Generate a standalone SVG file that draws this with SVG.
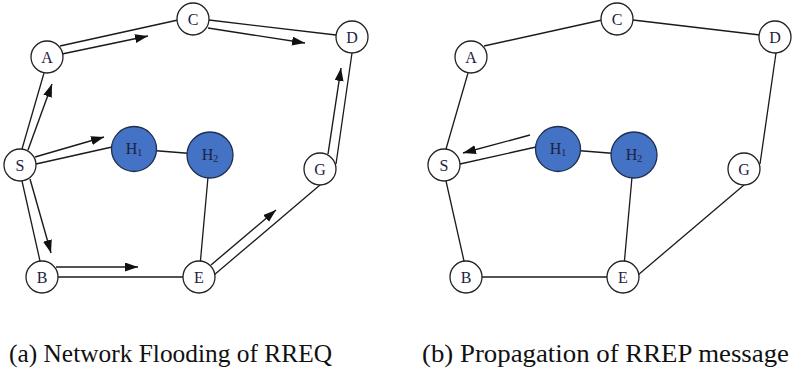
<svg xmlns="http://www.w3.org/2000/svg" width="792" height="375" viewBox="0 0 792 375">
<style>
.e{stroke:#1a1a1a;stroke-width:1.3;fill:none}
.a{stroke:#1a1a1a;stroke-width:1.4;fill:none;marker-end:url(#ah)}
.n{fill:#fff;stroke:#222;stroke-width:1.3}
.h{fill:#4472c4;stroke:#1f2f4f;stroke-width:1.3}
.t{font-size:16px;fill:#1c2340;text-anchor:middle}
.cap{font-size:26px;fill:#111}
</style>
<defs>
<marker id="ah" markerUnits="userSpaceOnUse" markerWidth="14" markerHeight="10" refX="13" refY="4.5" orient="auto">
<path d="M0,0 L13,4.5 L0,9 z" fill="#111"/>
</marker>
</defs>
<g id="connectors">
<line class="e" x1="60" y1="46" x2="178" y2="20"/>
<line class="a" x1="62" y1="54" x2="148" y2="36"/>
<line class="e" x1="209" y1="20" x2="336" y2="35"/>
<line class="a" x1="208" y1="28" x2="305" y2="43"/>
<line class="e" x1="352" y1="53" x2="336" y2="164"/>
<line class="a" x1="328" y1="154" x2="341" y2="68"/>
<line class="e" x1="22" y1="149" x2="44" y2="73"/>
<line class="a" x1="28" y1="150" x2="52" y2="84"/>
<line class="e" x1="36" y1="164" x2="112" y2="147"/>
<line class="a" x1="35" y1="157" x2="104" y2="137"/>
<line class="e" x1="22" y1="181" x2="40" y2="261"/>
<line class="a" x1="30" y1="179" x2="51" y2="253"/>
<line class="e" x1="58" y1="277" x2="183" y2="277"/>
<line class="a" x1="56" y1="267" x2="138" y2="267"/>
<line class="e" x1="214" y1="275" x2="320" y2="185"/>
<line class="a" x1="211" y1="265" x2="276" y2="210"/>
<line class="e" x1="134" y1="149" x2="210" y2="155"/>
<line class="e" x1="210" y1="155" x2="199" y2="277"/>
<line class="e" x1="484" y1="46" x2="602" y2="20"/>
<line class="e" x1="633" y1="20" x2="760" y2="35"/>
<line class="e" x1="776" y1="53" x2="760" y2="164"/>
<line class="e" x1="446" y1="149" x2="468" y2="73"/>
<line class="e" x1="460" y1="164" x2="536" y2="147"/>
<line class="a" x1="530" y1="135" x2="463" y2="153"/>
<line class="e" x1="446" y1="181" x2="464" y2="261"/>
<line class="e" x1="482" y1="277" x2="607" y2="277"/>
<line class="e" x1="638" y1="275" x2="744" y2="185"/>
<line class="e" x1="558" y1="149" x2="634" y2="155"/>
<line class="e" x1="634" y1="155" x2="623" y2="277"/>
</g>
<g font-family="Liberation Serif, Times New Roman, serif">
<g id="L-A"><circle class="n" cx="47" cy="57" r="16"/><text class="t" x="47" y="62.5">A</text></g>
<g id="L-C"><circle class="n" cx="193" cy="19" r="16"/><text class="t" x="193" y="24.5">C</text></g>
<g id="L-D"><circle class="n" cx="352" cy="37" r="16"/><text class="t" x="352" y="42.5">D</text></g>
<g id="L-S"><circle class="n" cx="20" cy="165" r="16"/><text class="t" x="20" y="170.5">S</text></g>
<g id="L-H1"><circle class="h" cx="134" cy="149" r="22.5"/><text class="t" x="134" y="154">H<tspan font-size="10" dy="2">1</tspan></text></g>
<g id="L-H2"><circle class="h" cx="210" cy="155" r="23"/><text class="t" x="210" y="160">H<tspan font-size="10" dy="2">2</tspan></text></g>
<g id="L-G"><circle class="n" cx="320" cy="169" r="16"/><text class="t" x="320" y="174.5">G</text></g>
<g id="L-B"><circle class="n" cx="42" cy="277" r="16"/><text class="t" x="42" y="282.5">B</text></g>
<g id="L-E"><circle class="n" cx="199" cy="277" r="16"/><text class="t" x="199" y="282.5">E</text></g>
<g id="R-A"><circle class="n" cx="471" cy="57" r="16"/><text class="t" x="471" y="62.5">A</text></g>
<g id="R-C"><circle class="n" cx="617" cy="19" r="16"/><text class="t" x="617" y="24.5">C</text></g>
<g id="R-D"><circle class="n" cx="775" cy="37" r="16"/><text class="t" x="775" y="42.5">D</text></g>
<g id="R-S"><circle class="n" cx="444" cy="165" r="16"/><text class="t" x="444" y="170.5">S</text></g>
<g id="R-H1"><circle class="h" cx="558" cy="149" r="22.5"/><text class="t" x="558" y="154">H<tspan font-size="10" dy="2">1</tspan></text></g>
<g id="R-H2"><circle class="h" cx="634" cy="155" r="23"/><text class="t" x="634" y="160">H<tspan font-size="10" dy="2">2</tspan></text></g>
<g id="R-G"><circle class="n" cx="744" cy="169" r="16"/><text class="t" x="744" y="174.5">G</text></g>
<g id="R-B"><circle class="n" cx="466" cy="277" r="16"/><text class="t" x="466" y="282.5">B</text></g>
<g id="R-E"><circle class="n" cx="623" cy="277" r="16"/><text class="t" x="623" y="282.5">E</text></g>
<g id="captions">
<text class="cap" x="9" y="362" textLength="323" lengthAdjust="spacingAndGlyphs">(a) Network Flooding of RREQ</text>
<text class="cap" x="422" y="362" textLength="367" lengthAdjust="spacingAndGlyphs">(b) Propagation of RREP message</text>
</g>
</g>
</svg>
